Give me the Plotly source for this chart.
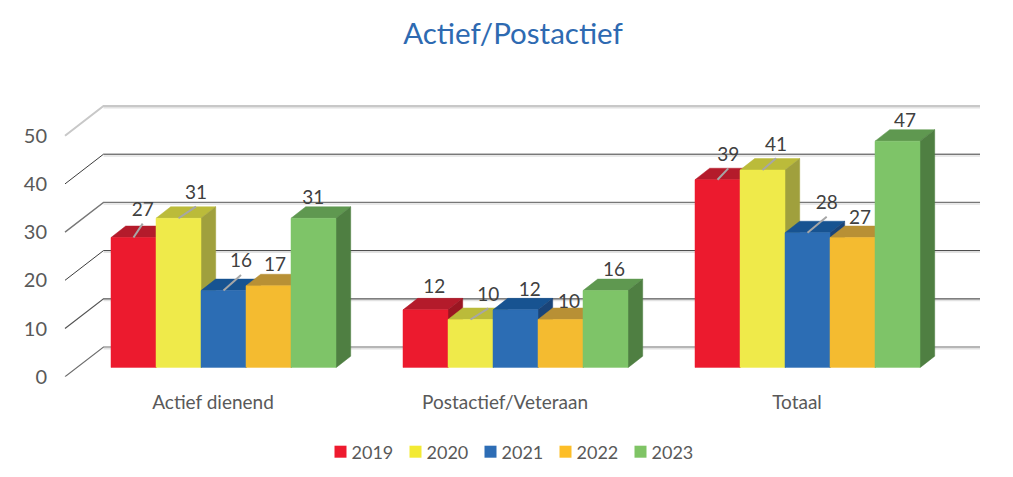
import plotly.graph_objects as go

# ---- data ----
CATEGORIES = ["Actief dienend", "Postactief/Veteraan", "Totaal"]
YEARS = ["2019", "2020", "2021", "2022", "2023"]
V2019 = [27, 12, 39]
V2020 = [31, 10, 41]
V2021 = [16, 12, 28]
V2022 = [17, 10, 27]
V2023 = [31, 16, 47]
SERIES = [V2019, V2020, V2021, V2022, V2023]
Y_TICKS = [0, 10, 20, 30, 40, 50]

# ---- styles ----
FRONT = ["#EC1A2E", "#EFEA4A", "#2C6DB4", "#F4BB30", "#7EC468"]
TOP = ["#B41B2B", "#BBBB3A", "#175391", "#B89035", "#5F9850"]
SIDE = ["#9A1622", "#A0A03D", "#1A4478", "#A07C2C", "#4F7F42"]
SWATCH = ["#EE1A2E", "#F3EA33", "#2D6DB5", "#FDBE27", "#7FC465"]
GRID_COLORS = ["#6e6e6e", "#555555", "#3c3c3c", "#777777", "#3c3c3c", "#c8c8c8"]
GRID_WIDTHS = [1.2, 1.2, 1.0, 1.4, 1.0, 2.0]

# ---- geometry (pixels of the 1013x477 picture) ----
W, H = 1013, 477
PX_PER_CAT = 292.0
PX_PER_UNIT = 4.82
CAT0_PX = 213.0
BAR_SHIFT = 10.5 / PX_PER_CAT
BAR_W = 45.0 / PX_PER_CAT
DEPTH_X = 14.7 / PX_PER_CAT
DEPTH_Y = 11.5 / PX_PER_UNIT
AXIS_FLOOR_PX = 376.7
BAR_FLOOR_PX = 367.7
WALL_X = 38.5 / PX_PER_CAT
WALL_Y = 29.7 / PX_PER_UNIT
LEFT_X = (65 - CAT0_PX) / PX_PER_CAT
RIGHT_X = (980 - CAT0_PX) / PX_PER_CAT

# label placement: offset from the front-top centre of each bar (px right, px up)
LABEL_DX = [[9.2, 8.8, 10.8], [17.5, 17.8, 13.5], [17.5, 14.2, 19.2], [6.5, 8.5, 7.5], [-0.2, 8.5, 7.5]]
LABEL_DY = [[28.9, 24.6, 26.4], [26.6, 26.2, 26.8], [30.6, 21.2, 31.0], [22.5, 18.8, 20.9], [21.6, 21.9, 21.2]]
LABEL_BASELINE_PX = 2.5
LEADER = [[1, 0, 1], [1, 1, 1], [1, 0, 1], [0, 0, 0], [0, 0, 0]]

fig = go.Figure()

# back wall gridlines with their slanted part (drawn through the tick axis)
for v, c, w in zip(Y_TICKS, GRID_COLORS, GRID_WIDTHS):
    wall = v + WALL_Y
    fig.add_trace(go.Scatter(x=[LEFT_X + WALL_X, RIGHT_X], y=[wall - 0.35, wall - 0.35], mode="lines",
                             line=dict(color="#e2e2e2", width=1.5), hoverinfo="skip", showlegend=False,
                             xaxis="x", yaxis="y"))
    fig.add_trace(go.Scatter(x=[LEFT_X, LEFT_X + WALL_X, RIGHT_X], y=[v, wall, wall], mode="lines",
                             line=dict(color=c, width=w), hoverinfo="skip", showlegend=False,
                             xaxis="x", yaxis="y"))


def poly(points_per_bar):
    xs, ys = [], []
    for pts in points_per_bar:
        for a, b in pts + [pts[0]]:
            xs.append(a)
            ys.append(b)
        xs.append(None)
        ys.append(None)
    return xs, ys


def add_face(pts, color):
    xs, ys = poly(pts)
    fig.add_trace(go.Scatter(x=xs, y=ys, mode="lines", fill="toself", fillcolor=color,
                             line=dict(color=color, width=0.5), hoverinfo="skip", showlegend=False,
                             xaxis="x", yaxis="y2"))


lead_x, lead_y, lab_x, lab_y, lab_t = [], [], [], [], []
for s, values in enumerate(SERIES):
    tops, sides, fronts = [], [], []
    for g, v in enumerate(values):
        x0 = g + BAR_SHIFT + (s - 2.5) * BAR_W
        x1 = x0 + BAR_W
        tops.append([(x0, v), (x0 + DEPTH_X, v + DEPTH_Y), (x1 + DEPTH_X, v + DEPTH_Y), (x1, v)])
        sides.append([(x1, 0), (x1, v), (x1 + DEPTH_X, v + DEPTH_Y), (x1 + DEPTH_X, DEPTH_Y)])
        fronts.append([(x0, 0), (x0, v), (x1, v), (x1, 0)])
        xc = (x0 + x1) / 2
        lx = xc + LABEL_DX[s][g] / PX_PER_CAT
        ly = v + LABEL_DY[s][g] / PX_PER_UNIT
        lab_x.append(lx)
        lab_y.append(ly - LABEL_BASELINE_PX / PX_PER_UNIT)
        lab_t.append(str(v))
        if LEADER[s][g]:
            lead_x += [xc, lx, None]
            lead_y += [v, ly - 15 / PX_PER_UNIT, None]
    add_face(tops, TOP[s])
    add_face(sides, SIDE[s])
    add_face(fronts, FRONT[s])

fig.add_trace(go.Scatter(x=lead_x, y=lead_y, mode="lines", line=dict(color="#a6a6a6", width=2),
                         hoverinfo="skip", showlegend=False, xaxis="x", yaxis="y2"))
fig.add_trace(go.Scatter(x=lab_x, y=lab_y, mode="text", text=lab_t, textposition="middle center",
                         textfont=dict(family="Lato", size=19, color="#404040"), hoverinfo="skip",
                         showlegend=False, xaxis="x", yaxis="y2", cliponaxis=False))

# legend keys
for name, c in zip(YEARS, SWATCH):
    fig.add_trace(go.Scatter(x=[None], y=[None], mode="markers", name=name,
                             marker=dict(symbol="square", size=12, color=c), xaxis="x", yaxis="y2"))

fig.update_layout(
    width=W, height=H, autosize=False,
    margin=dict(l=0, r=0, t=0, b=0, autoexpand=False),
    paper_bgcolor="white", plot_bgcolor="rgba(0,0,0,0)",
    title=dict(text="Actief/Postactief", x=513 / W, xanchor="center", y=1 - 34 / H, yanchor="middle",
               font=dict(family="Lato", size=29.5, color="#2E6AB1")),
    xaxis=dict(range=[-CAT0_PX / PX_PER_CAT, (W - CAT0_PX) / PX_PER_CAT], domain=[0, 1], anchor="y",
               tickmode="array", tickvals=[0, 1, 2], ticktext=CATEGORIES, showgrid=False, zeroline=False,
               showline=False, ticks="outside", ticklen=8, tickcolor="rgba(0,0,0,0)",
               tickfont=dict(family="Lato", size=19, color="#595959")),
    yaxis=dict(domain=[(H - AXIS_FLOOR_PX) / H, 1], range=[0, AXIS_FLOOR_PX / PX_PER_UNIT],
               anchor="free", position=65 / W, side="left",
               tickmode="array", tickvals=Y_TICKS, showgrid=False, zeroline=False, showline=False,
               ticks="outside", ticklen=14, tickcolor="rgba(0,0,0,0)",
               tickfont=dict(family="Lato", size=20, color="#595959")),
    yaxis2=dict(domain=[(H - BAR_FLOOR_PX) / H, 1], range=[0, BAR_FLOOR_PX / PX_PER_UNIT], anchor="x",
                visible=False),
    legend=dict(orientation="h", xref="paper", yref="paper", x=499 / W, xanchor="center",
                y=1 - 452 / H, yanchor="middle",
                font=dict(family="Lato", size=18, color="#595959"), entrywidth=30, entrywidthmode="pixels",
                bgcolor="rgba(0,0,0,0)"),
)

# The page has a default 8px body margin; the legend keys sit closer to their text in the reference.
POST = """
document.body.style.margin = '0';
document.querySelectorAll('.legend .traces .legendsymbols').forEach(function (n) {
  n.setAttribute('transform', 'translate(9,0)');
});
document.querySelectorAll('.legend .scrollbox').forEach(function (n) {
  n.removeAttribute('clip-path');
  n.style.clipPath = 'none';
});
"""
fig.write_html("out.html", post_script=POST, config=dict(displayModeBar=False))
